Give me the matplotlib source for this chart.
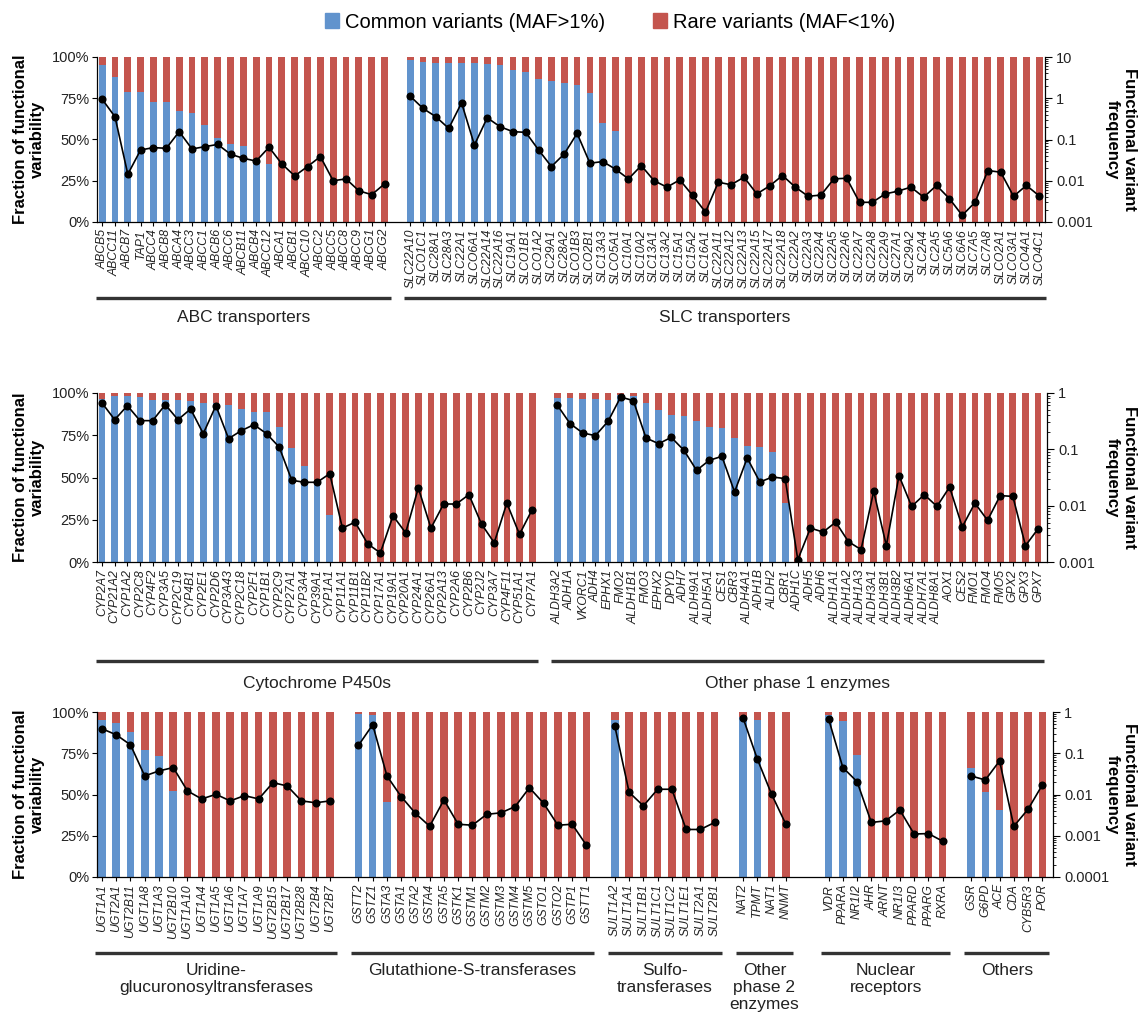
import matplotlib
matplotlib.use('Agg')

import numpy as np
import matplotlib.pyplot as plt
from matplotlib import transforms
from matplotlib.patches import Patch
from matplotlib.ticker import LogLocator, NullFormatter, FuncFormatter

plt.rcParams['font.family'] = ['Liberation Sans', 'DejaVu Sans']

BLUE = '#6193cd'
RED = '#c4554e'

# ---------------- row 1: transporters ----------------
abc_genes = ['ABCB5', 'ABCC11', 'ABCB7', 'TAP1', 'ABCC4', 'ABCB8', 'ABCA4', 'ABCC3', 'ABCC1',
             'ABCB6', 'ABCC6', 'ABCB11', 'ABCB4', 'ABCC12', 'ABCA1', 'ABCB1', 'ABCC10', 'ABCC2',
             'ABCC5', 'ABCC8', 'ABCC9', 'ABCG1', 'ABCG2']
abc_common = [0.95, 0.88, 0.79, 0.79, 0.73, 0.73, 0.67, 0.66, 0.59, 0.51, 0.47, 0.46, 0.37, 0.35,
              0, 0, 0, 0, 0, 0, 0, 0, 0]
abc_freq = [0.95, 0.356, 0.0144, 0.0558, 0.0636, 0.0612, 0.155, 0.059, 0.067, 0.076, 0.044,
            0.035, 0.030, 0.065, 0.0256, 0.0131, 0.0221, 0.0385, 0.0100, 0.0111, 0.0057,
            0.0046, 0.0084]

slc_genes = ['SLC22A10', 'SLCO1C1', 'SLC28A1', 'SLC28A3', 'SLC22A1', 'SLCO6A1', 'SLC22A14',
             'SLC22A16', 'SLC19A1', 'SLCO1B1', 'SLCO1A2', 'SLC29A1', 'SLC28A2', 'SLCO1B3',
             'SLCO2B1', 'SLC13A3', 'SLCO5A1', 'SLC10A1', 'SLC10A2', 'SLC13A1', 'SLC13A2',
             'SLC15A1', 'SLC15A2', 'SLC16A1', 'SLC22A11', 'SLC22A12', 'SLC22A13', 'SLC22A15',
             'SLC22A17', 'SLC22A18', 'SLC22A2', 'SLC22A3', 'SLC22A4', 'SLC22A5', 'SLC22A6',
             'SLC22A7', 'SLC22A8', 'SLC22A9', 'SLC27A1', 'SLC29A2', 'SLC2A4', 'SLC2A5',
             'SLC5A6', 'SLC6A6', 'SLC7A5', 'SLC7A8', 'SLCO2A1', 'SLCO3A1', 'SLCO4A1', 'SLCO4C1']
slc_common = [0.98, 0.97, 0.966, 0.964, 0.964, 0.964, 0.956, 0.954, 0.923, 0.909, 0.869, 0.853,
              0.843, 0.829, 0.779, 0.602, 0.553] + [0] * 33
slc_freq = [1.12, 0.566, 0.356, 0.186, 0.774, 0.0736, 0.336, 0.204, 0.155, 0.149, 0.0558,
            0.0221, 0.0447, 0.141, 0.0266, 0.0292, 0.019, 0.0111, 0.0233, 0.0100, 0.0070,
            0.0105, 0.0044, 0.00174, 0.0092, 0.0080, 0.0122, 0.0048, 0.0075, 0.0134, 0.0070,
            0.0042, 0.0045, 0.0111, 0.0115, 0.0030, 0.0030, 0.0048, 0.0056, 0.0070, 0.0040,
            0.0077, 0.0037, 0.00145, 0.0030, 0.0177, 0.0161, 0.0042, 0.0077, 0.0043]

# ---------------- row 2: phase 1 enzymes ----------------
cyp_genes = ['CYP2A7', 'CYP21A2', 'CYP1A2', 'CYP2C8', 'CYP4F2', 'CYP3A5', 'CYP2C19', 'CYP4B1',
             'CYP2E1', 'CYP2D6', 'CYP3A43', 'CYP2C18', 'CYP2F1', 'CYP1B1', 'CYP2C9', 'CYP27A1',
             'CYP3A4', 'CYP39A1', 'CYP1A1', 'CYP11A1', 'CYP11B1', 'CYP11B2', 'CYP17A1',
             'CYP19A1', 'CYP20A1', 'CYP24A1', 'CYP26A1', 'CYP2A13', 'CYP2A6', 'CYP2B6',
             'CYP2J2', 'CYP3A7', 'CYP4F11', 'CYP51A1', 'CYP7A1']
cyp_common = [0.964, 0.985, 0.98, 0.976, 0.96, 0.96, 0.957, 0.95, 0.94, 0.94, 0.93, 0.905,
              0.89, 0.89, 0.80, 0.675, 0.566, 0.467, 0.28] + [0] * 16
cyp_freq = [0.664, 0.336, 0.596, 0.323, 0.323, 0.621, 0.336, 0.52, 0.19, 0.596, 0.155, 0.214,
            0.274, 0.19, 0.11, 0.0282, 0.026, 0.026, 0.037, 0.0040, 0.0051, 0.0021, 0.00145,
            0.0066, 0.0033, 0.0206, 0.0040, 0.0107, 0.0107, 0.0157, 0.0047, 0.0022, 0.0111,
            0.0031, 0.0085]

oth1_genes = ['ALDH3A2', 'ADH1A', 'VKORC1', 'ADH4', 'EPHX1', 'FMO2', 'ALDH1B1', 'FMO3', 'EPHX2',
              'DPYD', 'ADH7', 'ALDH9A1', 'ALDH5A1', 'CES1', 'CBR3', 'ALDH4A1', 'ADH1B', 'ALDH2',
              'CBR1', 'ADH1C', 'ADH5', 'ADH6', 'ALDH1A1', 'ALDH1A2', 'ALDH1A3', 'ALDH3A1',
              'ALDH3B1', 'ALDH3B2', 'ALDH6A1', 'ALDH7A1', 'ALDH8A1', 'AOX1', 'CES2', 'FMO1',
              'FMO4', 'FMO5', 'GPX2', 'GPX3', 'GPX7']
oth1_common = [0.97, 0.97, 0.964, 0.964, 0.96, 0.99, 0.98, 0.94, 0.90, 0.87, 0.864, 0.836, 0.80,
               0.79, 0.734, 0.688, 0.678, 0.649, 0.35] + [0] * 20
oth1_freq = [0.604, 0.286, 0.195, 0.175, 0.314, 0.85, 0.731, 0.159, 0.126, 0.163, 0.096, 0.0424,
             0.0638, 0.0751, 0.0175, 0.0702, 0.0263, 0.0323, 0.0302, 0.0011, 0.0040, 0.0034,
             0.0051, 0.0023, 0.00166, 0.018, 0.00195, 0.0341, 0.0097, 0.0157, 0.0097, 0.0214,
             0.0042, 0.0111, 0.0055, 0.0151, 0.0146, 0.00195, 0.0039]

# ---------------- row 3: phase 2 enzymes and others ----------------
ugt_genes = ['UGT1A1', 'UGT2A1', 'UGT2B11', 'UGT1A8', 'UGT1A3', 'UGT2B10', 'UGT1A10', 'UGT1A4',
             'UGT1A5', 'UGT1A6', 'UGT1A7', 'UGT1A9', 'UGT2B15', 'UGT2B17', 'UGT2B28', 'UGT2B4',
             'UGT2B7']
ugt_common = [0.953, 0.933, 0.878, 0.767, 0.736, 0.523] + [0] * 11
ugt_freq = [0.393, 0.28, 0.16, 0.0282, 0.0373, 0.045, 0.0122, 0.0078, 0.0101, 0.0070, 0.0094,
            0.0078, 0.0194, 0.0161, 0.0070, 0.0063, 0.0070]

gst_genes = ['GSTT2', 'GSTZ1', 'GSTA3', 'GSTA1', 'GSTA2', 'GSTA4', 'GSTA5', 'GSTK1', 'GSTM1',
             'GSTM2', 'GSTM3', 'GSTM4', 'GSTM5', 'GSTO1', 'GSTO2', 'GSTP1', 'GSTT1']
gst_common = [0.99, 0.984, 0.456] + [0] * 14
gst_freq = [0.155, 0.492, 0.0282, 0.0089, 0.0035, 0.0017, 0.0074, 0.0019, 0.0018, 0.0033,
            0.0036, 0.0051, 0.0146, 0.0061, 0.0018, 0.0019, 0.00059]

sult_genes = ['SULT1A2', 'SULT1A1', 'SULT1B1', 'SULT1C1', 'SULT1C2', 'SULT1E1', 'SULT2A1',
              'SULT2B1']
sult_common = [0.95, 0, 0, 0, 0, 0, 0, 0]
sult_freq = [0.448, 0.0113, 0.0053, 0.0134, 0.0134, 0.00142, 0.00142, 0.0021]

oth2_genes = ['NAT2', 'TPMT', 'NAT1', 'NNMT']
oth2_common = [0.97, 0.95, 0, 0]
oth2_freq = [0.714, 0.0718, 0.0101, 0.0019]

nr_genes = ['VDR', 'PPARA', 'NR1I2', 'AHR', 'ARNT', 'NR1I3', 'PPARD', 'PPARG', 'RXRA']
nr_common = [0.98, 0.943, 0.74, 0, 0, 0, 0, 0, 0]
nr_freq = [0.676, 0.045, 0.0205, 0.0021, 0.0023, 0.0042, 0.0011, 0.00113, 0.00074]

misc_genes = ['GSR', 'G6PD', 'ACE', 'CDA', 'CYB5R3', 'POR']
misc_common = [0.66, 0.517, 0.406, 0, 0, 0]
misc_freq = [0.0282, 0.0225, 0.0653, 0.0017, 0.0044, 0.017]

W, H = 1146, 1019

rows = [
    dict(groups=[('ABC transporters', abc_genes, abc_common, abc_freq),
                 ('SLC transporters', slc_genes, slc_common, slc_freq)],
         gaps=[1], box=(97, 57, 1045, 222), ylog=(1e-3, 10), xpad=(0.4, 0.45),
         line_y=298, text_y=310),
    dict(groups=[('Cytochrome P450s', cyp_genes, cyp_common, cyp_freq),
                 ('Other phase 1 enzymes', oth1_genes, oth1_common, oth1_freq)],
         gaps=[1], box=(97, 393, 1047, 562), ylog=(1e-3, 1), xpad=(0.4, 0.7),
         line_y=661, text_y=676),
    dict(groups=[('Uridine-\nglucuronosyltransferases', ugt_genes, ugt_common, ugt_freq),
                 ('Glutathione-S-transferases', gst_genes, gst_common, gst_freq),
                 ('Sulfo-\ntransferases', sult_genes, sult_common, sult_freq),
                 ('Other\nphase 2\nenzymes', oth2_genes, oth2_common, oth2_freq),
                 ('Nuclear\nreceptors', nr_genes, nr_common, nr_freq),
                 ('Others', misc_genes, misc_common, misc_freq)],
         gaps=[1, 1, 1, 2, 1], box=(97, 712, 1053, 877), ylog=(1e-4, 1), xpad=(0.35, 0.75),
         line_y=953, text_y=963),
]

fig = plt.figure(figsize=(W / 100, H / 100), dpi=100)

for row in rows:
    x0, y0, x1, y1 = row['box']
    ax = fig.add_axes([x0 / W, 1 - y1 / H, (x1 - x0) / W, (y1 - y0) / H])
    ax2 = ax.twinx()

    start = 0
    all_pos, all_labels = [], []
    spans = []
    for i, (title, genes, common, freq) in enumerate(row['groups']):
        pos = start + np.arange(len(genes))
        common = np.array(common)
        ax.bar(pos, common, width=0.53, color=BLUE, linewidth=0)
        ax.bar(pos, 1 - common, bottom=common, width=0.53, color=RED, linewidth=0)
        ax2.plot(pos, freq, color='black', lw=1.2, marker='o', ms=4.8, zorder=5)
        all_pos.extend(pos)
        all_labels.extend(genes)
        spans.append((title, pos[0], pos[-1]))
        if i < len(row['gaps']):
            start = pos[-1] + 1 + row['gaps'][i]

    ax.set_xlim(-row['xpad'][0], all_pos[-1] + row['xpad'][1])
    ax.set_ylim(0, 1)
    ax.set_yticks([0, 0.25, 0.5, 0.75, 1])
    ax.set_yticklabels(['0%', '25%', '50%', '75%', '100%'], fontsize=10.5, color='#222222')
    ax.set_xticks(all_pos)
    ax.set_xticklabels(all_labels, rotation=90, fontsize=8.8, fontstyle='italic',
                       color='#222222')
    ax.tick_params(axis='x', length=3, width=0.8, pad=2)
    ax.tick_params(axis='y', length=3.5, width=0.8, pad=2)
    for s in ['top', 'right']:
        ax.spines[s].set_visible(False)
    for s in ['left', 'bottom']:
        ax.spines[s].set_linewidth(0.9)

    ax2.set_yscale('log')
    ax2.set_ylim(*row['ylog'])
    ax2.yaxis.set_major_locator(LogLocator(base=10))
    ax2.yaxis.set_minor_locator(LogLocator(base=10, subs=np.arange(2, 10)))
    ax2.yaxis.set_major_formatter(FuncFormatter(lambda v, p: '%g' % v))
    ax2.yaxis.set_minor_formatter(NullFormatter())
    ax2.tick_params(axis='y', which='major', length=5, width=0.8, labelsize=10.5,
                    labelcolor='#222222', pad=3)
    ax2.tick_params(axis='y', which='minor', length=2.5, width=0.6)
    for s in ['top', 'left', 'bottom']:
        ax2.spines[s].set_visible(False)
    ax2.spines['right'].set_linewidth(0.9)

    # group brackets underneath the gene names
    tr = transforms.blended_transform_factory(ax.transData, fig.transFigure)
    for title, a, b in spans:
        ax.plot([a - 0.5, b + 0.5], [1 - row['line_y'] / H] * 2, transform=tr,
                color='#333333', lw=2.4, clip_on=False, solid_capstyle='butt')
        ax.text((a + b) / 2, 1 - row['text_y'] / H, title, transform=tr, ha='center',
                va='top', fontsize=12.5, linespacing=1.15, color='#222222')

    yc = 1 - (y0 + y1) / 2 / H
    fig.text(29 / W, yc, 'Fraction of functional\nvariability', rotation=90, ha='center',
             va='center', fontsize=12, fontweight='bold', linespacing=1.2)
    fig.text(1121 / W, yc, 'Functional variant\nfrequency', rotation=270, ha='center',
             va='center', fontsize=12, fontweight='bold', linespacing=1.2)

handles = [Patch(color=BLUE, label='Common variants (MAF>1%)'),
           Patch(color=RED, label='Rare variants (MAF<1%)')]
fig.legend(handles=handles, loc='center', bbox_to_anchor=(610 / W, 1 - 22 / H), ncol=2,
           frameon=False, fontsize=14.5, handlelength=0.7, handleheight=0.7,
           handletextpad=0.3, columnspacing=2.4)

fig.savefig('out.png', dpi=100)
